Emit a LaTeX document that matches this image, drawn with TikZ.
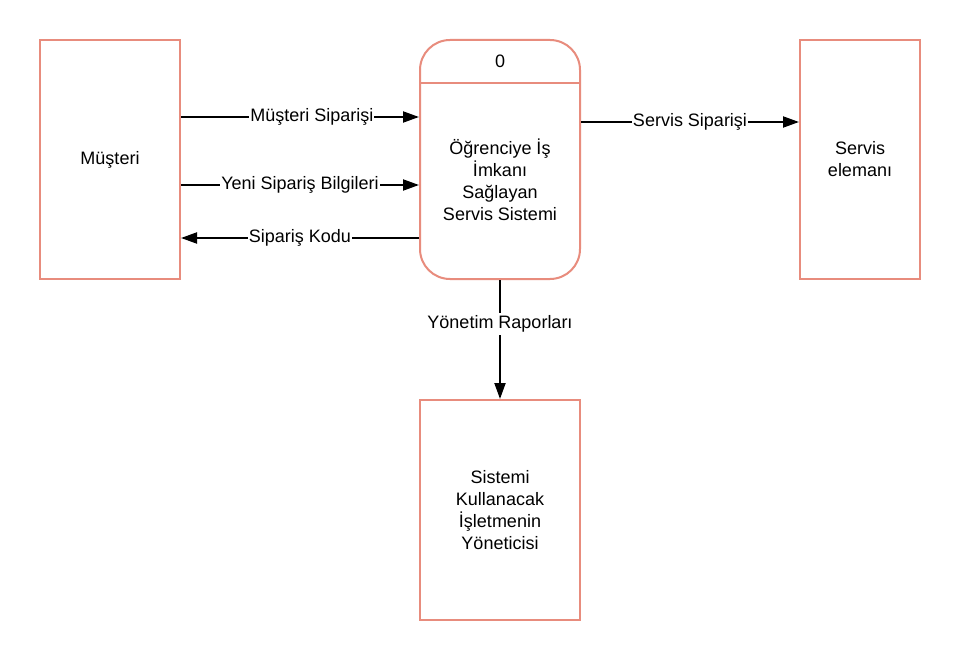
\documentclass[tikz,border=0pt]{standalone}
\usepackage{fontspec}
\setmainfont{Liberation Sans}
\usetikzlibrary{arrows.meta}
\definecolor{boxline}{RGB}{232,140,125}
\tikzset{
  entity/.style={draw=boxline, line width=2pt, fill=white, rectangle, inner sep=0pt, align=center, font=\fontsize{18}{22}\selectfont},
  flow/.style={draw=black, line width=2pt, -{Triangle[length=16pt,width=11pt]}},
  flowlabel/.style={fill=white, inner sep=1pt, font=\fontsize{18}{22}\selectfont},
  txt/.style={align=center, inner sep=0pt, font=\fontsize{18}{22}\selectfont}
}
\begin{document}
\begin{tikzpicture}[x=1pt,y=-1pt]
\useasboundingbox[fill=white] (0,0) rectangle (960,660);
% entities
\node[entity, minimum width=140pt, minimum height=239pt] (m) at (110,159.5) {Müşteri};
\node[entity, minimum width=120pt, minimum height=239pt] (s) at (860,159.5) {Servis\\elemanı};
\node[entity, minimum width=160pt, minimum height=220pt] (y) at (500,510) {Sistemi\\Kullanacak\\İşletmenin\\Yöneticisi};
% process
\node[entity, rounded corners=30pt, minimum width=160pt, minimum height=239pt] (p) at (500,159.5) {};
\coordinate (dl) at (420,83);
\coordinate (dr) at (580,83);
\draw[boxline, line width=2pt] (dl) -- (dr);
\node[txt] (pid) at (500,61) {0};
\node[txt] (pname) at (500,180) {Öğrenciye İş\\İmkanı\\Sağlayan\\Servis Sistemi};
% flow rows
\coordinate (r1) at (0,117);
\coordinate (r2) at (0,185);
\coordinate (r3) at (0,238);
\coordinate (r4) at (0,122);
\draw[flow] (m.east |- r1) -- node[flowlabel, pos=0.55] {Müşteri Siparişi} (p.west |- r1);
\draw[flow] (m.east |- r2) -- node[flowlabel] {Yeni Sipariş Bilgileri} (p.west |- r2);
\draw[flow] (p.west |- r3) -- node[flowlabel] {Sipariş Kodu} (m.east |- r3);
\draw[flow] (p.east |- r4) -- node[flowlabel] {Servis Siparişi} (s.west |- r4);
\draw[flow] (p.south) -- node[flowlabel, pos=0.37, inner sep=3pt] {Yönetim Raporları} (y.north);
\end{tikzpicture}
\end{document}
